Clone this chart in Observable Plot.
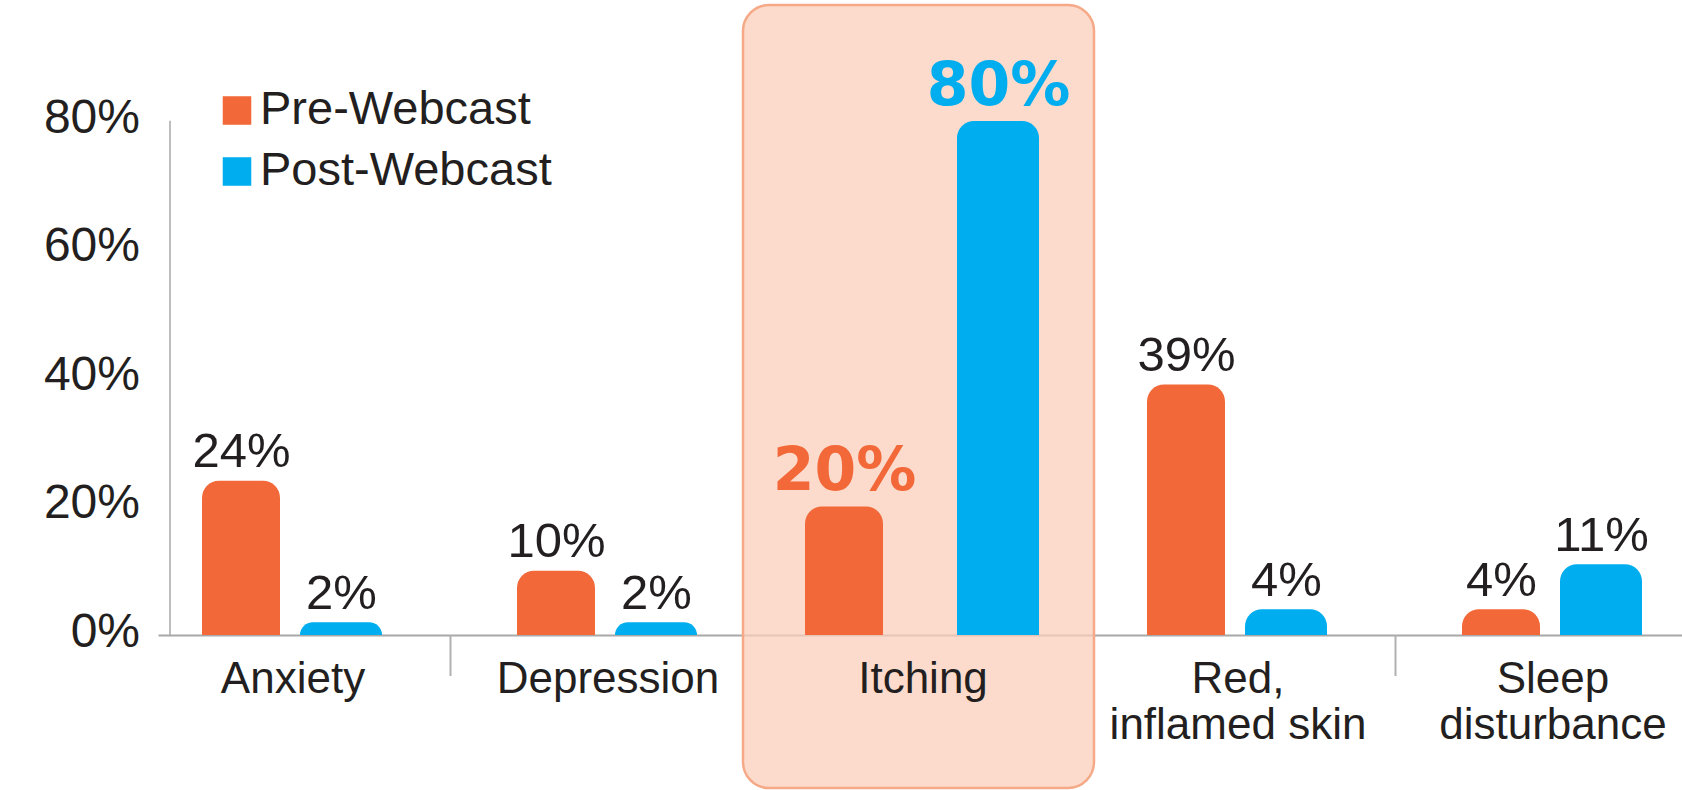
<!DOCTYPE html>
<html>
<head>
<meta charset="utf-8">
<script src="https://cdn.jsdelivr.net/npm/d3@7"></script>
<script src="https://cdn.jsdelivr.net/npm/@observablehq/plot@0.6"></script>
<style>
  html, body { margin: 0; padding: 0; background: #ffffff; }
  #chart svg { display: block; }
</style>
</head>
<body>
<div id="chart"></div>
<script>
// ---- data ----
const categories = ["Anxiety", "Depression", "Itching", "Red,\ninflamed skin", "Sleep\ndisturbance"];
const series = ["Pre-Webcast", "Post-Webcast"];
const preValues = [24, 10, 20, 39, 4];
const postValues = [2, 2, 80, 4, 11];
const seriesColors = ["#f26839", "#00aeef"];
const highlight = "Itching";
const yTicks = [0, 20, 40, 60, 80];

// ---- table built from arrays ----
const rows = [];
categories.forEach((c, i) => {
  rows.push({category: c, series: series[0], value: preValues[i]});
  rows.push({category: c, series: series[1], value: postValues[i]});
});
const isHl = d => d.category === highlight;
const pick = (s, hl) => rows.filter(d => d.series === s && isHl(d) === hl);
const separators = categories.filter((c, i) => i > 0 && c !== highlight && categories[i - 1] !== highlight);

const ink = "#231f20";
const axisGray = "#a8a8a8";
const font = "'Liberation Sans', Arial, Helvetica, sans-serif";

const barCommon = {x: "category", y: "value", fill: "series", ry1: 17};
const labelCommon = {x: "category", y: "value", text: d => d.value + "%", lineAnchor: "bottom", dy: -14, fontSize: 49, fill: ink};
const hlLabel = {x: "category", y: "value", text: d => d.value + "%", lineAnchor: "bottom", dy: -17, fontSize: 60, fontWeight: "bold", fontFamily: "'DejaVu Sans', sans-serif", fill: "series"};

const legendMarks = series.flatMap((s, i) => [
  Plot.dot([s], {frameAnchor: "top-left", symbol: "square", r: 16.1, fill: seriesColors[i], dx: 67, dy: -11 + i * 61}),
  Plot.text([s], {frameAnchor: "top-left", text: d => d, textAnchor: "start", lineAnchor: "middle", dx: 90, dy: -13 + i * 61, fontSize: 47, fill: ink})
]);

const chart = Plot.plot({
  width: 1682,
  height: 790,
  marginTop: 121,
  marginBottom: 155,
  marginLeft: 169.5,
  marginRight: 0,
  style: {fontFamily: font, background: "#ffffff", color: ink},
  x: {domain: categories, range: [135, 1710], padding: 0, axis: null},
  y: {domain: [0, 80], axis: null},
  color: {domain: series, range: seriesColors},
  marks: [
    Plot.ruleY([0], {stroke: axisGray, strokeWidth: 1.8, insetLeft: -11}),
    Plot.cell([highlight], {x: d => d, fill: "#fbcfbb", fillOpacity: 0.75, stroke: "#f5a987", strokeWidth: 2.5, rx: 26,
      insetTop: -116, insetBottom: -153, insetLeft: -22, insetRight: -14}),
    Plot.frame({anchor: "left", stroke: axisGray, strokeWidth: 1.5}),
    Plot.ruleX(separators, {x: d => d, dx: -157.5, stroke: "#b0b0b0", strokeWidth: 2, insetTop: 514, insetBottom: -41}),
    // bars
    Plot.barY(pick(series[0], false), {...barCommon, insetLeft: 67, insetRight: 170}),
    Plot.barY(pick(series[1], false), {...barCommon, insetLeft: 165, insetRight: 68}),
    Plot.barY(pick(series[0], true), {...barCommon, insetLeft: 40, insetRight: 197}),
    Plot.barY(pick(series[1], true), {...barCommon, insetLeft: 192, insetRight: 41}),
    // value labels
    Plot.text(pick(series[0], false), {...labelCommon, dx: -51.5}),
    Plot.text(pick(series[1], false), {...labelCommon, dx: 48.5}),
    Plot.text(pick(series[0], true), {...hlLabel, dx: -78.5}),
    Plot.text(pick(series[1], true), {...hlLabel, dx: 75.5}),
    // axes
    Plot.axisY({ticks: yTicks, tickFormat: d => d + "%", tickSize: 0, tickPadding: 30, dy: -4, fontSize: 48, label: null, fill: ink}),
    Plot.axisX({tickSize: 0, tickPadding: 25, fontSize: 44, lineHeight: 1.04, label: null, fill: ink}),
    ...legendMarks
  ]
});
document.getElementById("chart").appendChild(chart);
</script>
</body>
</html>
